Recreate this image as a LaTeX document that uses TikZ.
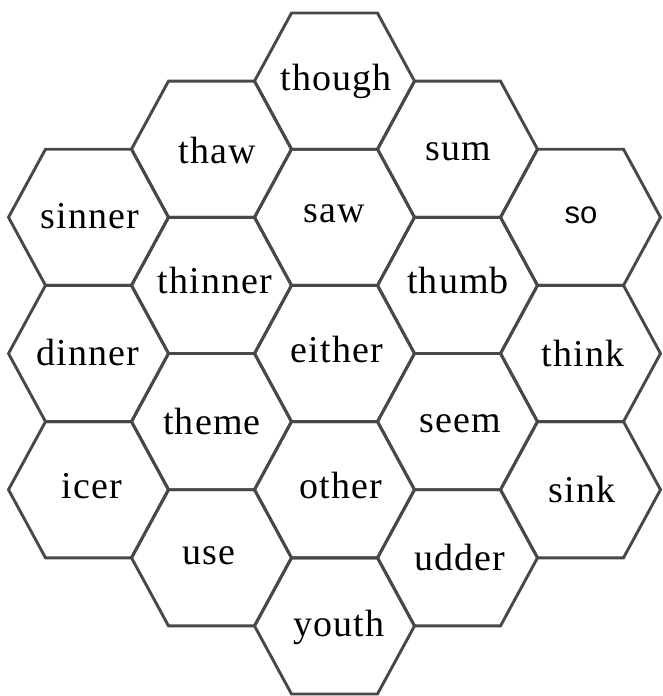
\documentclass[tikz,border=0pt]{standalone}
\usepackage{fontspec}
\setmainfont[LetterSpace=3]{Liberation Serif}
\newfontfamily\sofont{Liberation Sans}
\definecolor{hexline}{RGB}{72,72,72}
\tikzset{
  hexedge/.style={draw=hexline, line width=2.9pt, line join=miter},
  word/.style={anchor=base, inner sep=0pt, font=\fontsize{38}{42}\selectfont},
  pics/hexa/.style={code={
    \draw[hexedge] (-80,0) -- (-43,-68.1) -- (43,-68.1) -- (80,0) -- (43,68.1) -- (-43,68.1) -- cycle;
  }}
}
\begin{document}
\begin{tikzpicture}[x=1pt,y=-1pt]
\useasboundingbox (0,0) rectangle (663,696);
% columns: cx = 88.5 + 123 i ; cy = 13 + 68.1 k
\foreach \k in {3,5,7} { \pic at (88.5, 13+68.1*\k) {hexa}; }
\foreach \k in {2,4,6,8} { \pic at (211.5, 13+68.1*\k) {hexa}; }
\foreach \k in {1,3,5,7,9} { \pic at (334.5, 13+68.1*\k) {hexa}; }
\foreach \k in {2,4,6,8} { \pic at (457.5, 13+68.1*\k) {hexa}; }
\foreach \k in {3,5,7} { \pic at (580.5, 13+68.1*\k) {hexa}; }
% labels
\node[word] (though)  at (336,90)  {though};
\node[word] (thaw)    at (217,163) {thaw};
\node[word] (sum)     at (458,160) {sum};
\node[word] (sinner)  at (90,228)  {sinner};
\node[word] (saw)     at (334,222) {saw};
\node[anchor=base, inner sep=0pt, font=\sofont\fontsize{31}{34}\selectfont] (so) at (581,223) {so};
\node[word] (thinner) at (215,293) {thinner};
\node[word] (thumb)   at (458,293) {thumb};
\node[word] (dinner)  at (88,365)  {dinner};
\node[word] (either)  at (337,362) {either};
\node[word] (think)   at (583,366) {think};
\node[word] (theme)   at (212,434) {theme};
\node[word] (seem)    at (460,432) {seem};
\node[word] (icer)    at (92,498)  {icer};
\node[word] (other)   at (341,498) {other};
\node[word] (sink)    at (582,502) {sink};
\node[word] (use)     at (209,564) {use};
\node[word] (udder)   at (460,570) {udder};
\node[word] (youth)   at (339,636) {youth};
\end{tikzpicture}
\end{document}
